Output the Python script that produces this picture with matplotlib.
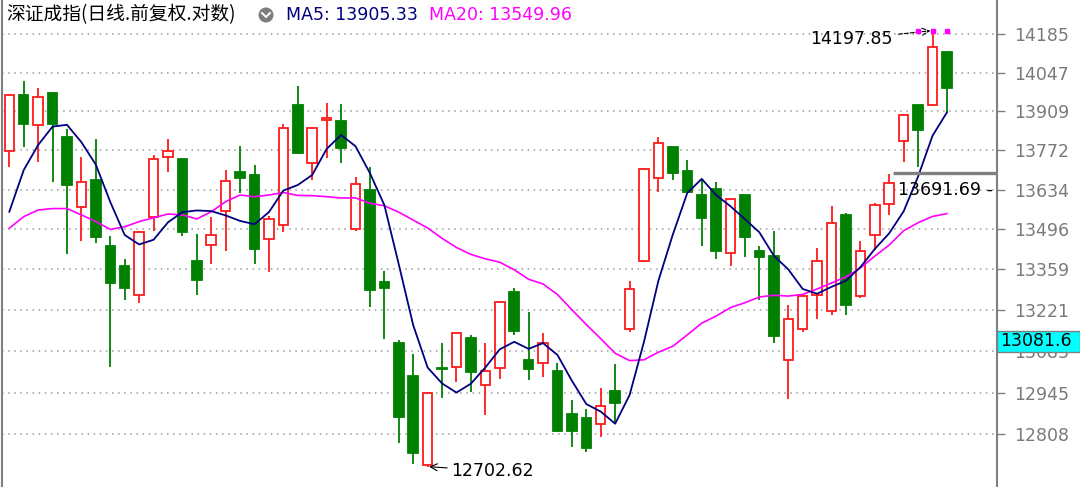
import numpy as np
import pandas as pd
import matplotlib
matplotlib.use('Agg')
import matplotlib.pyplot as plt
from matplotlib.patches import Rectangle, Ellipse
from matplotlib.ticker import FixedLocator, FuncFormatter, NullLocator

plt.rcParams['font.family'] = ['DejaVu Sans', 'Noto Sans CJK SC']

# ── Data (daily OHLC) ────────────────────────────────────────────────────────
opens = [13769, 13968, 13861, 13975, 13817, 13572, 13667, 13439, 13372, 13272,
         13538, 13747, 13741, 13389, 13442, 13561, 13695, 13684, 13464, 13510,
         13933, 13728, 13878, 13875, 13497, 13632, 13315, 13111, 13000, 12708,
         13028, 13031, 13126, 12971, 13026, 13281, 13055, 13042, 13017, 12875,
         12861, 12841, 12952, 13156, 13387, 13675, 13782, 13700, 13615, 13636,
         13414, 13615, 13422, 13406, 13052, 13156, 13272, 13218, 13546, 13267,
         13477, 13584, 13803, 13931, 13930, 14121]
highs = [13971, 14017, 13991, 13978, 13846, 13749, 13812, 13473, 13393, 13491,
         13755, 13812, 13743, 13479, 13540, 13701, 13788, 13719, 13543, 13864,
         13999, 13852, 13940, 13934, 13679, 13714, 13353, 13120, 13072, 12947,
         13111, 13144, 13137, 13111, 13249, 13294, 13216, 13143, 13045, 12921,
         12891, 12962, 13039, 13321, 13706, 13817, 13784, 13736, 13670, 13660,
         13603, 13616, 13439, 13489, 13237, 13271, 13433, 13576, 13551, 13456,
         13588, 13689, 13897, 13933, 14197.85, 14123]
lows = [13714, 13784, 13731, 13661, 13412, 13457, 13450, 13029, 13255, 13244,
        13492, 13696, 13473, 13272, 13379, 13423, 13623, 13379, 13350, 13486,
        13758, 13667, 13743, 13726, 13492, 13232, 13123, 12779, 12710, 12702.62,
        12926, 12979, 12948, 12872, 12990, 13137, 12986, 12996, 12817, 12768,
        12752, 12800, 12844, 13148, 13385, 13627, 13667, 13625, 13440, 13394,
        13372, 13400, 13255, 13111, 12925, 13148, 13190, 13205, 13205, 13262,
        13425, 13546, 13730, 13714, 13928, 13908]
closes = [13966, 13864, 13961, 13864, 13651, 13659, 13469, 13311, 13294, 13488,
          13740, 13769, 13487, 13323, 13477, 13665, 13674, 13430, 13533, 13851,
          13761, 13850, 13886, 13778, 13653, 13289, 13294, 12866, 12748, 12945,
          13025, 13143, 13013, 13017, 13247, 13151, 13025, 13109, 12819, 12819,
          12765, 12901, 12910, 13291, 13705, 13797, 13691, 13627, 13536, 13423,
          13601, 13469, 13400, 13134, 13191, 13268, 13388, 13517, 13238, 13422,
          13579, 13658, 13896, 13842, 14138, 13993]

# moving averages before the window is complete (earlier days not shown)
ma5_head = [13557, 13702, 13790, 13855]
ma20_head = [13500, 13540, 13563, 13568, 13568, 13546, 13523, 13496, 13505, 13523,
             13536, 13549, 13546, 13532, 13557, 13592, 13615, 13609, 13615]

y_ticks = [14185, 14047, 13909, 13772, 13634, 13496, 13359, 13221, 13083, 12945, 12808]

title = '深证成指(日线.前复权.对数)'
ma5_label = 'MA5: 13905.33'
ma20_label = 'MA20: 13549.96'
cursor_price = '13081.6'
mark_level = 13691.69

# ── Colours ──────────────────────────────────────────────────────────────────
RED = '#ff1a1a'
GREEN = '#008000'
NAVY = '#000080'
MAGENTA = '#ff00ff'
GREY = '#808080'

n = len(closes)
idx = np.arange(n)
ma5 = pd.Series(closes).rolling(5).mean().to_numpy()
ma5[:len(ma5_head)] = ma5_head
ma20 = pd.Series(closes).rolling(20).mean().to_numpy()
ma20[:len(ma20_head)] = ma20_head

W, H = 1080, 487
fig = plt.figure(figsize=(W / 100, H / 100), dpi=100, facecolor='white')
ax = fig.add_axes([2 / W, 0, 995 / W, 1])
ax.set_yscale('log')
ax.set_ylim(12637, 14310)
ax.set_xlim(-0.506, 68.47)

# ── Grid / axes ──────────────────────────────────────────────────────────────
ax.yaxis.tick_right()
ax.yaxis.set_major_locator(FixedLocator(y_ticks))
ax.yaxis.set_major_formatter(FuncFormatter(lambda v, p: f'{v:.0f}'))
ax.yaxis.set_minor_locator(NullLocator())
ax.tick_params(axis='y', which='major', direction='out', length=5.5, width=1.0,
               color=GREY, labelcolor='#7a7a7a', labelsize=12.5, pad=7)
ax.set_xticks([])
ax.grid(True, axis='y', color='#9a9a9a', lw=1.1, linestyle=(0, (1, 3)))
for s in ['top', 'bottom']:
    ax.spines[s].set_visible(False)
for s in ['left', 'right']:
    ax.spines[s].set_color(GREY)
    ax.spines[s].set_linewidth(1.5)

# ── Candles ──────────────────────────────────────────────────────────────────
bw = 0.66
for i in range(n):
    o, h, l, c = opens[i], highs[i], lows[i], closes[i]
    up = c >= o
    col = RED if up else GREEN
    ax.vlines(i, l, h, color=col, lw=1.3, zorder=2)
    lo, hi = min(o, c), max(o, c)
    if hi - lo < 3:
        hi = lo + 3
    ax.add_patch(Rectangle((i - bw / 2, lo), bw, hi - lo,
                           facecolor='white' if up else GREEN,
                           edgecolor=col, lw=1.3, zorder=3))

# ── Moving averages ──────────────────────────────────────────────────────────
ax.plot(idx, ma20, color=MAGENTA, lw=1.2, zorder=4)
ax.plot(idx, ma5, color=NAVY, lw=1.3, zorder=5)

# ── Annotations ──────────────────────────────────────────────────────────────
i_hi = int(np.argmax(highs))
i_lo = int(np.argmin(lows))
ax.annotate(f'{highs[i_hi]:.2f}', xy=(i_hi - 0.15, highs[i_hi]),
            xytext=(-27, -6), textcoords='offset points',
            ha='right', va='center', fontsize=12.5, color='black',
            arrowprops=dict(arrowstyle='->', color='black', lw=0.8, ls='--',
                            shrinkA=2, shrinkB=0))
ax.plot([i_hi - 1, i_hi, i_hi + 1], [highs[i_hi]] * 3, 's', color=MAGENTA,
        ms=2.2, zorder=6, clip_on=False)
ax.annotate(f'{lows[i_lo]:.2f}', xy=(i_lo + 0.1, lows[i_lo]),
            xytext=(16, -3), textcoords='offset points',
            ha='left', va='center', fontsize=12.5, color='black',
            arrowprops=dict(arrowstyle='->', color='black', lw=0.8,
                            shrinkA=1, shrinkB=0))

# horizontal marker line at the right
ax.plot([61.25, 68.47], [mark_level, mark_level], color=GREY, lw=2.4,
        zorder=6, solid_capstyle='butt')
ax.annotate(f'{mark_level:.2f} -', xy=(61.6, mark_level), xytext=(0, -6),
            textcoords='offset points', ha='left', va='top',
            fontsize=12.5, color='black', zorder=7)

# ── Header ───────────────────────────────────────────────────────────────────
ty = 1 - 15 / H
fig.text(6 / W, ty, title, fontsize=13.5, va='center', ha='left', color='black',
         family=['Noto Sans CJK SC', 'DejaVu Sans'])
fig.add_artist(Ellipse((266 / W, ty), 15 / W, 15 / H, facecolor='#7d7d7d',
                       edgecolor='none', transform=fig.transFigure))
fig.add_artist(plt.Line2D([262 / W, 266 / W, 270 / W],
                          [ty + 2 / H, ty - 2 / H, ty + 2 / H],
                          transform=fig.transFigure, color='white', lw=1.4))
fig.text(286 / W, ty, ma5_label, fontsize=12.5, va='center', ha='left', color=NAVY)
fig.text(429 / W, ty, ma20_label, fontsize=12.5, va='center', ha='left', color=MAGENTA)

# ── Cursor price box on the axis ─────────────────────────────────────────────
fig.add_artist(Rectangle((997 / W, 1 - 352 / H), 83 / W, 21 / H,
                         facecolor='#00ffff', edgecolor=GREY, lw=1.0,
                         transform=fig.transFigure, zorder=10))
fig.text(1000 / W, 1 - 341.5 / H, cursor_price, fontsize=12.5, va='center',
         ha='left', color='black', zorder=11)

fig.savefig('out.png', dpi=100, facecolor='white')
